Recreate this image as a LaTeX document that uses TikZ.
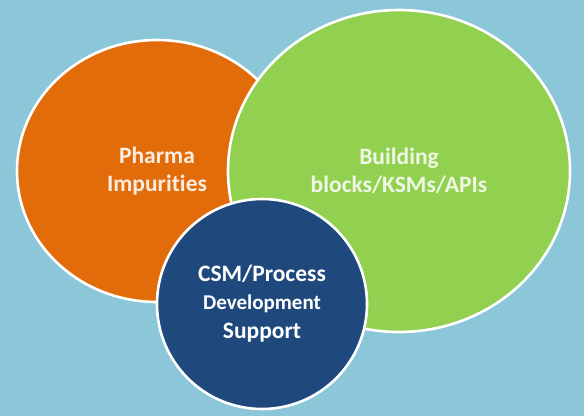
\documentclass[tikz,border=0pt]{standalone}
\usepackage{fontspec}
\setmainfont{Carlito}[Ligatures={NoCommon,NoContextual}]
\usetikzlibrary{shapes.geometric}
\definecolor{bgblue}{HTML}{8BC6D9}
\definecolor{orfill}{HTML}{E36C0A}
\definecolor{grfill}{HTML}{92D050}
\definecolor{blfill}{HTML}{1F497D}
\tikzset{
  blob/.style={ellipse, draw=white, line width=2.6pt, inner sep=0pt, align=center,
    font=\bfseries\fontsize{23.5}{28}\selectfont},
}
\begin{document}
\begin{tikzpicture}[x=1pt,y=-1pt]
\fill[bgblue] (0,0) rectangle (584,416);
\useasboundingbox (0,0) rectangle (584,416);
\node[blob, fill=orfill, text=white!88!orfill, minimum width=280pt, minimum height=262pt] (pharma) at (157,171) {Pharma\\Impurities};
\node[blob, fill=grfill, text=white!85!grfill, minimum width=342pt, minimum height=322pt] (build) at (399,171) {Building\\blocks/KSMs/APIs};
\node[blob, fill=blfill, text=white, minimum width=210pt, minimum height=210pt] (csm) at (262,304)
  {CSM/Process\\[0pt]{\fontsize{21}{26}\selectfont Development}\\[1pt]Support};
\end{tikzpicture}
\end{document}
